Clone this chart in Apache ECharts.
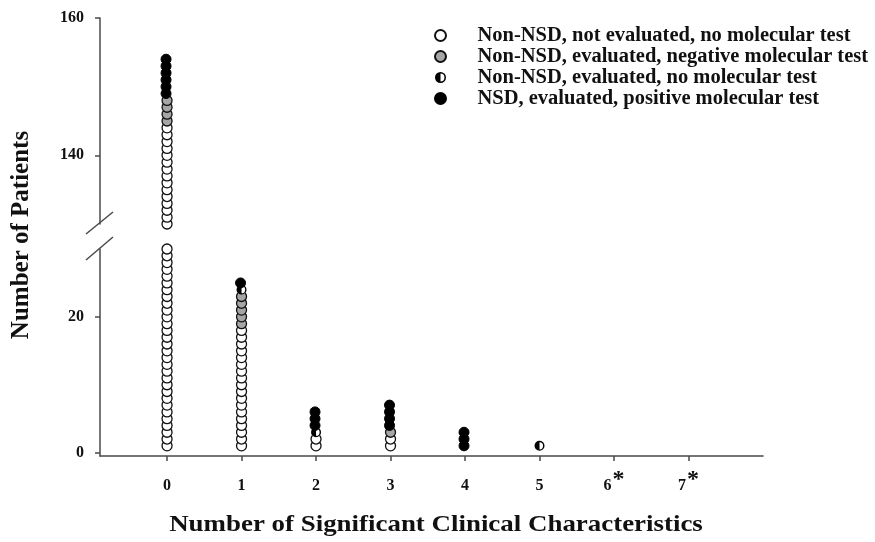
<!DOCTYPE html>
<html>
<head>
<meta charset="utf-8">
<script src="https://cdn.jsdelivr.net/npm/echarts@6/dist/echarts.min.js"></script>
<style>
  html, body { margin: 0; padding: 0; background: #fff; }
  #chart { width: 875px; height: 542px; }
</style>
</head>
<body>
<div id="chart"></div>
<script>
// x categories = number of significant clinical characteristics
var categories = [0, 1, 2, 3, 4, 5, 6, 7];
var starredCats = [6, 7];
// y tick labels for the two segments of the broken axis
var upperTicks = [140, 160];
var lowerTicks = [0, 20];
// patient stacks: [category, fromRank, toRank] (ranks 31..129 are hidden by the break)
var notEvaluatedRuns = [[0, 1, 30], [0, 130, 144], [1, 1, 18], [2, 1, 2], [3, 1, 2]];
var negativeRuns = [[0, 145, 148], [1, 19, 23], [3, 3, 3]];
var noTestRuns = [[1, 24, 24], [2, 3, 3], [5, 1, 1]];
var positiveRuns = [[0, 149, 154], [1, 25, 25], [2, 4, 6], [3, 4, 7], [4, 1, 3]];

var seriesNames = [
  'Non-NSD, not evaluated, no molecular test',
  'Non-NSD, evaluated, negative molecular test',
  'Non-NSD, evaluated, no molecular test',
  'NSD, evaluated, positive molecular test'
];

var FONT = '"Liberation Serif", "Times New Roman", serif';
var AXIS_COLOR = '#4a4a4a';
// left half black circle with outline (outer disc minus inner right half)
var HALF_ICON = 'path://M10,0 A10,10 0 1,1 10,20 A10,10 0 1,1 10,0 Z M10,2.8 L10,17.2 A7.2,7.2 0 0,0 10,2.8 Z';

// split runs into points for the upper (>=130) or lower (<=30) segment
function points(runs, upper) {
  var out = [];
  runs.forEach(function (r) {
    for (var k = r[1]; k <= r[2]; k++) {
      if (upper ? k >= 130 : k <= 30) out.push([r[0], k]);
    }
  });
  return out;
}

function mk(name, runs, idx, style) {
  return Object.assign({
    name: name,
    type: 'scatter',
    xAxisIndex: idx,
    yAxisIndex: idx,
    clip: false,
    symbolSize: 10,
    data: points(runs, idx === 0)
  }, style);
}

var whiteStyle = { itemStyle: { color: '#fff', borderColor: '#111', borderWidth: 1.3, opacity: 1 } };
var grayStyle = { itemStyle: { color: '#a6a6a6', borderColor: '#111', borderWidth: 1.3, opacity: 1 } };
var halfBase = { itemStyle: { color: '#fff', borderWidth: 0, opacity: 1 } };
var halfStyle = { symbol: HALF_ICON, itemStyle: { color: '#000', opacity: 1 } };
var blackStyle = { symbolOffset: [-1, 0], itemStyle: { color: '#000', borderColor: '#000', borderWidth: 1, opacity: 1 } };

var series = [];
[0, 1].forEach(function (i) {
  series.push(mk(seriesNames[0], notEvaluatedRuns, i, whiteStyle));
  series.push(mk(seriesNames[1], negativeRuns, i, grayStyle));
  series.push(mk('halfBase', noTestRuns, i, halfBase));
  series.push(mk(seriesNames[2], noTestRuns, i, halfStyle));
  series.push(mk(seriesNames[3], positiveRuns, i, blackStyle));
});

var xCommon = {
  type: 'value',
  min: -0.9,
  max: 8,
  splitLine: { show: false }
};

function yAxis(idx, min, max, ticks) {
  return {
    type: 'value',
    gridIndex: idx,
    min: min,
    max: max,
    splitLine: { show: false },
    axisLine: { show: true, onZero: false, lineStyle: { color: AXIS_COLOR, width: 1.5 } },
    axisTick: { show: true, length: 5, customValues: ticks, lineStyle: { color: AXIS_COLOR, width: 1.5 } },
    axisLabel: {
      customValues: ticks,
      margin: 16,
      color: '#111',
      fontFamily: FONT,
      fontWeight: 'bold',
      fontSize: 16
    }
  };
}

var chart = echarts.init(document.getElementById('chart'));
chart.setOption({
  backgroundColor: '#fff',
  animation: false,
  grid: [
    { left: 100, top: 18, width: 663, height: 206, containLabel: false, outerBoundsMode: 'none' },
    { left: 100, top: 249, width: 663, height: 207, containLabel: false, outerBoundsMode: 'none' }
  ],
  xAxis: [
    Object.assign({ gridIndex: 0, show: false }, xCommon),
    Object.assign({
      gridIndex: 1,
      axisLine: { show: true, onZero: false, lineStyle: { color: AXIS_COLOR, width: 1.5 } },
      axisTick: { show: true, length: 5, customValues: categories, lineStyle: { color: AXIS_COLOR, width: 1.5 } },
      axisLabel: {
        customValues: categories,
        margin: 12,
        formatter: function (v) {
          return starredCats.indexOf(v) >= 0 ? '{n|' + v + '}{s|*}' : '{n|' + v + '}';
        },
        rich: {
          n: { fontFamily: FONT, fontWeight: 'bold', fontSize: 16, color: '#111', lineHeight: 26, verticalAlign: 'bottom' },
          s: { fontFamily: FONT, fontWeight: 'bold', fontSize: 24, color: '#111', lineHeight: 22, verticalAlign: 'top', padding: [0, 0, 0, 1] }
        }
      }
    }, xCommon)
  ],
  yAxis: [
    yAxis(0, 130, 160, upperTicks),
    yAxis(1, -0.5, 30, lowerTicks)
  ],
  legend: {
    data: seriesNames.map(function (n, i) {
      return i === 2 ? { name: n, icon: HALF_ICON } : { name: n, icon: 'circle' };
    }),
    orient: 'vertical',
    left: 429,
    top: 20,
    itemWidth: 64,
    itemHeight: 11,
    itemGap: 0,
    selectedMode: false,
    textStyle: { fontFamily: FONT, fontWeight: 'bold', fontSize: 20.5, lineHeight: 21, color: '#111' }
  },
  graphic: [
    {
      type: 'text',
      x: 22, y: 235,
      rotation: Math.PI / 2,
      style: {
        text: 'Number of Patients',
        fontFamily: FONT,
        fontWeight: 'bold',
        fontSize: 25,
        fill: '#111',
        align: 'center',
        verticalAlign: 'middle'
      }
    },
    {
      type: 'text',
      x: 436, y: 525,
      scaleX: 1.17,
      style: {
        text: 'Number of Significant Clinical Characteristics',
        fontFamily: FONT,
        fontWeight: 'bold',
        fontSize: 23,
        fill: '#111',
        align: 'center',
        verticalAlign: 'middle'
      }
    },
    { type: 'line', shape: { x1: 86, y1: 234, x2: 113, y2: 212 }, style: { stroke: AXIS_COLOR, lineWidth: 1.5 } },
    { type: 'line', shape: { x1: 86, y1: 260, x2: 113, y2: 237 }, style: { stroke: AXIS_COLOR, lineWidth: 1.5 } }
  ],
  series: series
});
</script>
</body>
</html>
